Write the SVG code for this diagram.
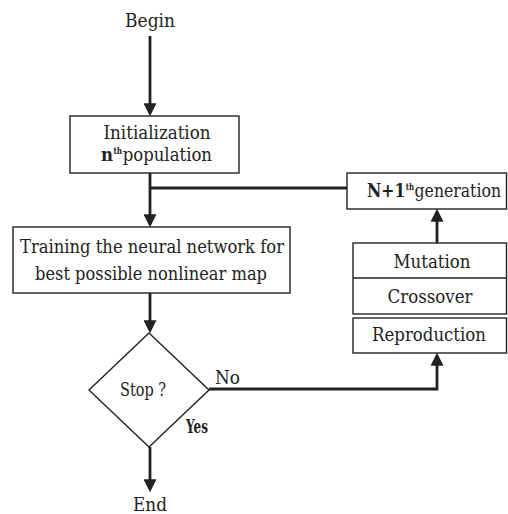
<svg xmlns="http://www.w3.org/2000/svg" width="508" height="514" viewBox="0 0 508 514">
  <style>
    .box { fill: #fff; stroke: #222; stroke-width: 1.4; }
    .t { font-family: 'DejaVu Serif', serif; font-size: 19px; fill: #222; }
    .c { text-anchor: middle; }
    .b { font-weight: bold; }
    .sup { font-size: 8.5px; font-weight: bold; }
    .conn { fill: none; stroke: #222; stroke-width: 2.8; }
  </style>
  <defs>
    <marker id="ah" viewBox="0 0 12 12" markerUnits="userSpaceOnUse" markerWidth="13" markerHeight="13" refX="9" refY="6" orient="auto">
      <path d="M0,0 L12,6 L0,12 z" fill="#222"/>
    </marker>
  </defs>
  <rect width="508" height="514" fill="#fff"/>

  <g id="connectors">
    <line class="conn" x1="150" y1="36" x2="150" y2="113" marker-end="url(#ah)"/>
    <line class="conn" x1="150" y1="173" x2="150" y2="224" marker-end="url(#ah)"/>
    <line class="conn" x1="150" y1="188" x2="347" y2="188"/>
    <line class="conn" x1="150" y1="293" x2="150" y2="330" marker-end="url(#ah)"/>
    <line class="conn" x1="150" y1="447" x2="150" y2="489" marker-end="url(#ah)"/>
    <polyline class="conn" points="209,389 437,389 437,356" marker-end="url(#ah)"/>
    <line class="conn" x1="437" y1="243" x2="437" y2="212" marker-end="url(#ah)"/>
  </g>

  <g id="begin">
    <text class="t c" x="150" y="27" textLength="50" lengthAdjust="spacingAndGlyphs">Begin</text>
  </g>

  <g id="init">
    <rect class="box" x="70" y="116" width="169" height="57"/>
    <text class="t c" x="157" y="139" textLength="107" lengthAdjust="spacingAndGlyphs">Initialization</text>
    <text class="t" x="101" y="161" textLength="111" lengthAdjust="spacingAndGlyphs"><tspan class="b">n</tspan><tspan class="sup" dx="0.5" dy="-7">th</tspan><tspan dx="0.5" dy="7">population</tspan></text>
  </g>

  <g id="training">
    <rect class="box" x="13" y="227" width="277" height="66"/>
    <text class="t c" x="152" y="253" textLength="264" lengthAdjust="spacingAndGlyphs">Training the neural network for</text>
    <text class="t c" x="151" y="280" textLength="232" lengthAdjust="spacingAndGlyphs">best possible nonlinear map</text>
  </g>

  <g id="stop">
    <polygon class="box" points="149,333 209,390 149,447 89,390"/>
    <text class="t" x="120" y="396" font-size="18" textLength="46" lengthAdjust="spacingAndGlyphs">Stop ?</text>
  </g>

  <g id="labels">
    <text class="t" x="215" y="384" textLength="25" lengthAdjust="spacingAndGlyphs">No</text>
    <text class="t b" x="186" y="433" font-size="13" textLength="22" lengthAdjust="spacingAndGlyphs">Yes</text>
  </g>

  <g id="end">
    <text class="t c" x="150" y="511" textLength="34" lengthAdjust="spacingAndGlyphs">End</text>
  </g>

  <g id="nextgen">
    <rect class="box" x="347" y="173" width="159.5" height="36"/>
    <text class="t" x="367" y="197" font-size="18" textLength="134" lengthAdjust="spacingAndGlyphs"><tspan class="b">N+1</tspan><tspan class="sup" dx="0.5" dy="-7">th</tspan><tspan dx="0.5" dy="7">generation</tspan></text>
  </g>

  <g id="mutation-crossover">
    <rect class="box" x="353" y="243" width="153.5" height="71"/>
    <line x1="353" y1="278" x2="506.5" y2="278" stroke="#222" stroke-width="1.4"/>
    <text class="t c" x="432" y="268" textLength="77" lengthAdjust="spacingAndGlyphs">Mutation</text>
    <text class="t c" x="430" y="303" textLength="85" lengthAdjust="spacingAndGlyphs">Crossover</text>
  </g>

  <g id="reproduction">
    <rect class="box" x="353" y="318" width="153.5" height="35"/>
    <text class="t c" x="429" y="341" textLength="114" lengthAdjust="spacingAndGlyphs">Reproduction</text>
  </g>
</svg>
